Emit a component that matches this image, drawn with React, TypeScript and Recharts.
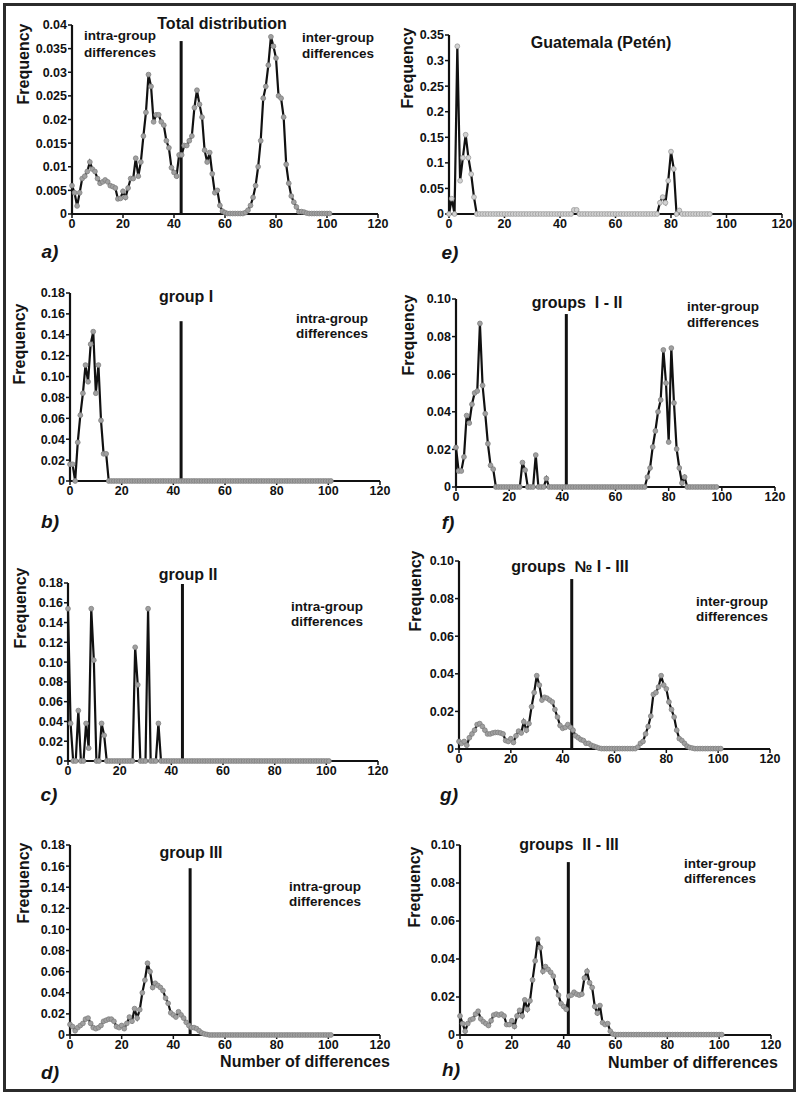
import React from 'react';
import { LineChart, Line, XAxis, YAxis, ReferenceLine } from 'recharts';

const FONT = "'Liberation Sans', Arial, Helvetica, sans-serif";

// x-axis ticks (number of differences)
const xTicks = [0, 20, 40, 60, 80, 100, 120];

// a) total distribution, x = 0..101
const totalDist = [
  0.006, 0.0045, 0.0017, 0.0045, 0.0075, 0.008, 0.009, 0.011, 0.0095, 0.009,
  0.0075, 0.0065, 0.0068, 0.0072, 0.0068, 0.006, 0.0058, 0.0055, 0.0032, 0.0033,
  0.0048, 0.0035, 0.0055, 0.0075, 0.0075, 0.0118, 0.008, 0.011, 0.0165, 0.0215,
  0.0295, 0.027, 0.0195, 0.021, 0.021, 0.0195, 0.0188, 0.0155, 0.014, 0.0098,
  0.0088, 0.008, 0.0125, 0.0125, 0.0145, 0.0145, 0.0155, 0.0165, 0.0225, 0.0262,
  0.0232, 0.0205, 0.0135, 0.011, 0.013, 0.0085, 0.0045, 0.005, 0.0018, 0.0006,
  0.0003, 0.0001, 0.0001, 0.0001, 0.0001, 0.0001, 0.0001, 0.0001, 0.0003, 0.0008,
  0.0018, 0.0035, 0.006, 0.01, 0.0155, 0.0245, 0.027, 0.0315, 0.0375, 0.0355,
  0.033, 0.025, 0.0245, 0.0205, 0.0105, 0.0065, 0.0038, 0.0025, 0.0015, 0.0005,
  0.0005, 0.0004, 0.0002, 0.0001, 0.0001, 0.0001, 0.0001, 0.0001, 0.0001, 0.0001,
  0.0001, 0.0001,
];

// e) Guatemala (Petén), x = 0..94
const guatemala = [
  0, 0.03, 0, 0.328, 0.065, 0.11, 0.155, 0.11, 0.078, 0.033,
  0, 0, 0, 0, 0, 0, 0, 0, 0, 0,
  0, 0, 0, 0, 0, 0, 0, 0, 0, 0,
  0, 0, 0, 0, 0, 0, 0, 0, 0, 0,
  0, 0, 0, 0, 0, 0.008, 0.008, 0, 0, 0,
  0, 0, 0, 0, 0, 0, 0, 0, 0, 0,
  0, 0, 0, 0, 0, 0, 0, 0, 0, 0,
  0, 0, 0, 0, 0, 0, 0.022, 0.033, 0.022, 0.065,
  0.122, 0.088, 0, 0.007, 0, 0, 0, 0, 0, 0,
  0, 0, 0, 0, 0,
];

// b) group I, x = 0..101
const group1 = [
  0.016, 0.016, 0, 0.037, 0.063, 0.084, 0.111, 0.095, 0.131, 0.143,
  0.084, 0.111, 0.058, 0.026, 0.026, 0, 0, 0, 0, 0,
  0, 0, 0, 0, 0, 0, 0, 0, 0, 0,
  0, 0, 0, 0, 0, 0, 0, 0, 0, 0,
  0, 0, 0, 0, 0, 0, 0, 0, 0, 0,
  0, 0, 0, 0, 0, 0, 0, 0, 0, 0,
  0, 0, 0, 0, 0, 0, 0, 0, 0, 0,
  0, 0, 0, 0, 0, 0, 0, 0, 0, 0,
  0, 0, 0, 0, 0, 0, 0, 0, 0, 0,
  0, 0, 0, 0, 0, 0, 0, 0, 0, 0,
  0, 0,
];

// c) group II, x = 0..101
const group2 = [
  0.154, 0.038, 0, 0, 0.051, 0, 0, 0.038, 0.013, 0.154,
  0.102, 0, 0, 0.038, 0.026, 0, 0, 0, 0, 0,
  0, 0, 0, 0, 0, 0, 0.115, 0.077, 0, 0,
  0, 0.154, 0, 0, 0, 0.038, 0, 0, 0, 0,
  0, 0, 0, 0, 0, 0, 0, 0, 0, 0,
  0, 0, 0, 0, 0, 0, 0, 0, 0, 0,
  0, 0, 0, 0, 0, 0, 0, 0, 0, 0,
  0, 0, 0, 0, 0, 0, 0, 0, 0, 0,
  0, 0, 0, 0, 0, 0, 0, 0, 0, 0,
  0, 0, 0, 0, 0, 0, 0, 0, 0, 0,
  0, 0,
];

// d) group III, x = 0..101
const group3 = [
  0.01, 0.008, 0.004, 0.007, 0.009, 0.011, 0.015, 0.016, 0.011, 0.007,
  0.006, 0.007, 0.009, 0.013, 0.014, 0.015, 0.015, 0.013, 0.008, 0.007,
  0.009, 0.006, 0.011, 0.017, 0.013, 0.025, 0.016, 0.024, 0.04, 0.052,
  0.068, 0.06, 0.045, 0.049, 0.047, 0.045, 0.042, 0.035, 0.03, 0.021,
  0.019, 0.017, 0.022, 0.019, 0.016, 0.012, 0.009, 0.007, 0.007, 0.006,
  0.004, 0.002, 0.001, 0.0005, 0, 0, 0, 0, 0, 0,
  0, 0, 0, 0, 0, 0, 0, 0, 0, 0,
  0, 0, 0, 0, 0, 0, 0, 0, 0, 0,
  0, 0, 0, 0, 0, 0, 0, 0, 0, 0,
  0, 0, 0, 0, 0, 0, 0, 0, 0, 0,
  0, 0,
];

// f) groups I - II, x = 0..98
const groups12 = [
  0.021, 0.0085, 0.0085, 0.016, 0.038, 0.034, 0.044, 0.05, 0.051, 0.087,
  0.054, 0.039, 0.023, 0.0115, 0.0095, 0, 0, 0, 0, 0,
  0, 0, 0, 0, 0, 0.013, 0.009, 0, 0, 0,
  0.017, 0, 0, 0, 0.0045, 0, 0, 0, 0, 0,
  0, 0, 0, 0, 0, 0, 0, 0, 0, 0,
  0, 0, 0, 0, 0, 0, 0, 0, 0, 0,
  0, 0, 0, 0, 0, 0, 0, 0, 0, 0,
  0, 0, 0.0053, 0.0101, 0.0213, 0.0298, 0.04, 0.0463, 0.0729, 0.0553,
  0.0239, 0.0739, 0.0447, 0.0202, 0.0101, 0.0021, 0.0053, 0, 0, 0,
  0, 0, 0, 0, 0, 0, 0, 0, 0,
];

// g) groups I - III, x = 0..101
const groups13 = [
  0.004, 0.003, 0.004, 0.002, 0.006, 0.008, 0.01, 0.013, 0.0135, 0.012,
  0.01, 0.008, 0.008, 0.0085, 0.0088, 0.0088, 0.0085, 0.008, 0.0045, 0.004,
  0.0055, 0.0035, 0.007, 0.0095, 0.0085, 0.0145, 0.01, 0.0135, 0.0225, 0.03,
  0.039, 0.034, 0.026, 0.0275, 0.027, 0.026, 0.025, 0.021, 0.017, 0.0125,
  0.011, 0.0115, 0.013, 0.0115, 0.01, 0.007, 0.006, 0.005, 0.0045, 0.003,
  0.003, 0.002, 0.0015, 0.001, 0.0005, 0.0002, 0.0002, 0.0002, 0.0002, 0.0002,
  0.0002, 0.0002, 0.0002, 0.0002, 0.0002, 0.0002, 0.0002, 0.0002, 0.0002, 0.001,
  0.003, 0.004, 0.008, 0.012, 0.0175, 0.029, 0.03, 0.033, 0.039, 0.034,
  0.032, 0.025, 0.021, 0.017, 0.01, 0.0055, 0.0045, 0.003, 0.0015, 0.0008,
  0.0005, 0.0002, 0.0002, 0.0002, 0.0002, 0.0002, 0.0002, 0.0002, 0.0002, 0.0002,
  0.0002, 0.0002,
];

// h) groups II - III, x = 0..101
const groups23 = [
  0.01, 0.006, 0.002, 0.006, 0.008, 0.0085, 0.011, 0.0125, 0.0085, 0.007,
  0.006, 0.005, 0.0075, 0.0105, 0.011, 0.0105, 0.011, 0.01, 0.0055, 0.0055,
  0.0075, 0.0045, 0.01, 0.013, 0.01, 0.0185, 0.0135, 0.018, 0.029, 0.039,
  0.0505, 0.046, 0.0335, 0.036, 0.0345, 0.033, 0.031, 0.025, 0.021, 0.0165,
  0.015, 0.0135, 0.0205, 0.021, 0.0225, 0.0215, 0.021, 0.0215, 0.03, 0.0335,
  0.0275, 0.025, 0.015, 0.0115, 0.0155, 0.0065, 0.0055, 0.006, 0.002, 0.0005,
  0.0002, 0.0002, 0.0002, 0.0002, 0.0002, 0.0002, 0.0002, 0.0002, 0.0002, 0.0002,
  0.0002, 0.0002, 0.0002, 0.0002, 0.0002, 0.0002, 0.0002, 0.0002, 0.0002, 0.0002,
  0.0002, 0.0002, 0.0002, 0.0002, 0.0002, 0.0002, 0.0002, 0.0002, 0.0002, 0.0002,
  0.0002, 0.0002, 0.0002, 0.0002, 0.0002, 0.0002, 0.0002, 0.0002, 0.0002, 0.0002,
  0.0002, 0.0002,
];

const ticksTotal = [0, 0.005, 0.01, 0.015, 0.02, 0.025, 0.03, 0.035, 0.04];
const ticksGuat = [0, 0.05, 0.1, 0.15, 0.2, 0.25, 0.3, 0.35];
const ticksGroup = [0, 0.02, 0.04, 0.06, 0.08, 0.1, 0.12, 0.14, 0.16, 0.18];
const ticksPair = [0, 0.02, 0.04, 0.06, 0.08, 0.1];

const fmtPlain = (v: number) => (v === 0 ? '0' : String(v));
const fmt2 = (v: number) => (v === 0 ? '0' : v.toFixed(2));

const toRows = (vals: number[]) => vals.map((y, i) => ({ x: i, y }));

const YW = 46;
const MT = 8;
const MR = 14;
const XH = 24;

type PanelProps = {
  data: number[];
  left: number; right: number; top: number; bottom: number;
  yMax: number; yTicks: number[]; fmt: (v: number) => string;
  refX?: number; refTop?: number; light?: boolean;
};

function Panel({ data, left, right, top, bottom, yMax, yTicks, fmt, refX, refTop, light }: PanelProps) {
  const pw = right - left;
  const ph = bottom - top;
  const tick = { fill: '#111', fontSize: 12.5, fontWeight: 700, fontFamily: FONT };
  return (
    <div style={{ position: 'absolute', left: left - YW, top: top - MT }}>
      <LineChart width={YW + pw + MR} height={MT + ph + XH} data={toRows(data)}
        margin={{ top: MT, right: MR, left: 0, bottom: 0 }}>
        <XAxis dataKey="x" type="number" domain={[0, 120]} ticks={xTicks} interval={0}
          height={XH} tick={tick} tickSize={4} tickMargin={1}
          axisLine={{ stroke: '#111', strokeWidth: 2.2 }} tickLine={{ stroke: '#111', strokeWidth: 1.5 }} />
        <YAxis type="number" domain={[0, yMax]} ticks={yTicks} interval={0} width={YW}
          tickFormatter={fmt} tick={tick} tickSize={4} tickMargin={1}
          axisLine={{ stroke: '#111', strokeWidth: 2.2 }} tickLine={{ stroke: '#111', strokeWidth: 1.5 }} />
        {refX !== undefined && refTop !== undefined && (
          <ReferenceLine segment={[{ x: refX, y: 0 }, { x: refX, y: refTop }]}
            stroke="#111" strokeWidth={3} />
        )}
        <Line type="linear" dataKey="y" stroke="#111" strokeWidth={2.2}
          dot={light
            ? { r: 2.4, fill: '#d2d2d2', stroke: '#9a9a9a', strokeWidth: 0.8 }
            : { r: 2.4, fill: '#a0a0a0', stroke: '#808080', strokeWidth: 0.8 }}
          isAnimationActive={false} />
      </LineChart>
    </div>
  );
}

function Txt({ x, y, size = 14, italic = false, rotate = false, lh, children }:
  { x: number; y: number; size?: number; italic?: boolean; rotate?: boolean; lh?: number; children: React.ReactNode }) {
  return (
    <div style={{
      position: 'absolute', left: x, top: y,
      transform: `translate(-50%, -50%)${rotate ? ' rotate(-90deg)' : ''}`,
      fontFamily: FONT, fontWeight: 700, fontSize: size, fontStyle: italic ? 'italic' : 'normal',
      color: '#141414', whiteSpace: 'nowrap', textAlign: 'center', lineHeight: lh ? `${lh}px` : 'normal',
    }}>{children}</div>
  );
}

export default function App() {
  return (
    <div style={{ position: 'absolute', left: 0, top: 0, width: 798, height: 1096, background: '#fff', overflow: 'hidden' }}>
      <div style={{ position: 'absolute', left: 3, top: 3, width: 793, height: 1089, border: '3px solid #2b2b2b', boxSizing: 'border-box' }} />

      {/* a) */}
      <Panel data={totalDist} left={72} right={378} top={25} bottom={214} yMax={0.04} yTicks={ticksTotal}
        fmt={fmtPlain} refX={42.8} refTop={0.0366} />
      <Txt x={222} y={24} size={16}>Total distribution</Txt>
      <Txt x={120} y={43.5} size={13.5} lh={17}>intra-group<br />differences</Txt>
      <Txt x={338} y={46} size={13.5} lh={16}>inter-group<br />differences</Txt>
      <Txt x={24} y={64} size={16} rotate>Frequency</Txt>
      <Txt x={50} y={252} size={19} italic>a)</Txt>

      {/* e) */}
      <Panel data={guatemala} left={449} right={782} top={35} bottom={214} yMax={0.35} yTicks={ticksGuat}
        fmt={fmtPlain} light />
      <Txt x={601} y={43} size={16}>Guatemala (Petén)</Txt>
      <Txt x={408} y={68} size={16} rotate>Frequency</Txt>
      <Txt x={450} y={253} size={19} italic>e)</Txt>

      {/* b) */}
      <Panel data={group1} left={70} right={380} top={293} bottom={481} yMax={0.18} yTicks={ticksGroup}
        fmt={fmt2} refX={43} refTop={0.153} />
      <Txt x={186} y={297} size={16}>group I</Txt>
      <Txt x={332} y={326} size={13.5} lh={15}>intra-group<br />differences</Txt>
      <Txt x={20} y={344} size={16} rotate>Frequency</Txt>
      <Txt x={50} y={522} size={19} italic>b)</Txt>

      {/* f) */}
      <Panel data={groups12} left={456} right={775} top={299} bottom={487} yMax={0.1} yTicks={ticksPair}
        fmt={fmt2} refX={41.5} refTop={0.092} />
      <Txt x={577} y={303} size={16}>groups&nbsp; I - II</Txt>
      <Txt x={723} y={315} size={13.5} lh={16}>inter-group<br />differences</Txt>
      <Txt x={409} y={335} size={16} rotate>Frequency</Txt>
      <Txt x={448} y={523} size={19} italic>f)</Txt>

      {/* c) */}
      <Panel data={group2} left={68} right={378} top={583} bottom={761} yMax={0.18} yTicks={ticksGroup}
        fmt={fmt2} refX={44.3} refTop={0.179} />
      <Txt x={188} y={575} size={16}>group II</Txt>
      <Txt x={327} y={613.5} size={13.5} lh={15}>intra-group<br />differences</Txt>
      <Txt x={21} y={608} size={16} rotate>Frequency</Txt>
      <Txt x={49} y={795} size={19} italic>c)</Txt>

      {/* g) */}
      <Panel data={groups13} left={459} right={770} top={561} bottom={749} yMax={0.1} yTicks={ticksPair}
        fmt={fmt2} refX={43.5} refTop={0.0904} />
      <Txt x={570} y={567} size={16}>groups&nbsp; № I - III</Txt>
      <Txt x={732} y={608.5} size={13.5} lh={15}>inter-group<br />differences</Txt>
      <Txt x={416} y={591} size={16} rotate>Frequency</Txt>
      <Txt x={449} y={795} size={19} italic>g)</Txt>

      {/* d) */}
      <Panel data={group3} left={70} right={380} top={845} bottom={1035} yMax={0.18} yTicks={ticksGroup}
        fmt={fmt2} refX={46.5} refTop={0.158} />
      <Txt x={191} y={853} size={16}>group III</Txt>
      <Txt x={325} y={893.5} size={13.5} lh={15}>intra-group<br />differences</Txt>
      <Txt x={24} y={883} size={16} rotate>Frequency</Txt>
      <Txt x={305} y={1062} size={16}>Number of differences</Txt>
      <Txt x={50} y={1073} size={19} italic>d)</Txt>

      {/* h) */}
      <Panel data={groups23} left={460} right={771} top={845} bottom={1035} yMax={0.1} yTicks={ticksPair}
        fmt={fmt2} refX={41.8} refTop={0.091} />
      <Txt x={569} y={845} size={16}>groups&nbsp; II - III</Txt>
      <Txt x={720} y={870.5} size={13.5} lh={15}>inter-group<br />differences</Txt>
      <Txt x={415} y={887} size={16} rotate>Frequency</Txt>
      <Txt x={693} y={1063} size={16}>Number of differences</Txt>
      <Txt x={451} y={1070} size={19} italic>h)</Txt>
    </div>
  );
}
